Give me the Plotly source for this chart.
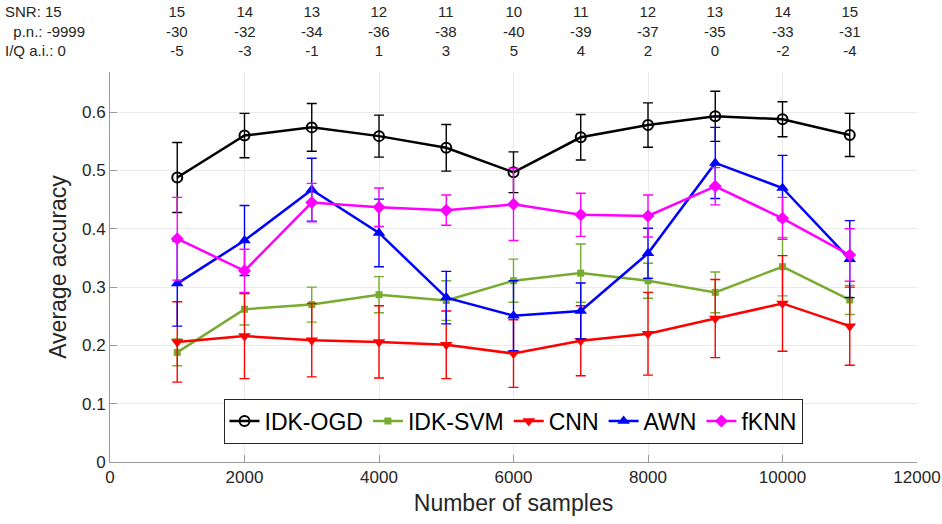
import plotly.graph_objects as go

# Sample counts on the x axis
samples = [1000, 2000, 3000, 4000, 5000, 6000, 7000, 8000, 9000, 10000, 11000]
x_ticks = [0, 2000, 4000, 6000, 8000, 10000, 12000]

# Mean accuracy and standard deviation for each method
idk_ogd = [0.488, 0.560, 0.574, 0.559, 0.539, 0.497, 0.557, 0.578, 0.593, 0.588, 0.561]
idk_ogd_err = [0.060, 0.038, 0.041, 0.036, 0.040, 0.035, 0.039, 0.038, 0.043, 0.030, 0.037]

idk_svm = [0.188, 0.262, 0.270, 0.287, 0.277, 0.311, 0.324, 0.311, 0.291, 0.335, 0.278]
idk_svm_err = [0.023, 0.027, 0.030, 0.031, 0.034, 0.037, 0.050, 0.030, 0.035, 0.050, 0.025]

cnn = [0.206, 0.216, 0.209, 0.206, 0.201, 0.186, 0.208, 0.220, 0.246, 0.272, 0.233]
cnn_err = [0.069, 0.073, 0.063, 0.062, 0.058, 0.058, 0.060, 0.071, 0.067, 0.082, 0.067]

awn = [0.306, 0.380, 0.467, 0.393, 0.282, 0.251, 0.259, 0.358, 0.513, 0.470, 0.348]
awn_err = [0.073, 0.060, 0.054, 0.058, 0.045, 0.060, 0.048, 0.043, 0.061, 0.056, 0.066]

fknn = [0.383, 0.328, 0.445, 0.437, 0.432, 0.442, 0.424, 0.422, 0.473, 0.418, 0.355]
fknn_err = [0.071, 0.037, 0.033, 0.033, 0.026, 0.062, 0.037, 0.036, 0.032, 0.036, 0.045]

# Stream conditions printed above each sample count
snr = [15, 14, 13, 12, 11, 10, 11, 12, 13, 14, 15]
phase_noise = [-30, -32, -34, -36, -38, -40, -39, -37, -35, -33, -31]
iq_imbalance = [-5, -3, -1, 1, 3, 5, 4, 2, 0, -2, -4]
row_labels = ["SNR: 15", "&nbsp;&nbsp;p.n.: -9999", "I/Q a.i.: 0"]

FONT = "Liberation Sans, Arial, sans-serif"
TEXT = "#262626"

series = [
    ("IDK-OGD", idk_ogd, idk_ogd_err, "#000000",
     dict(symbol="circle-open", size=10, line=dict(width=2, color="#000000"))),
    ("IDK-SVM", idk_svm, idk_svm_err, "#77AC30",
     dict(symbol="square", size=7)),
    ("CNN", cnn, cnn_err, "#FF0000",
     dict(symbol="triangle-down", size=11)),
    ("AWN", awn, awn_err, "#0000FF",
     dict(symbol="triangle-up", size=11)),
    ("fKNN", fknn, fknn_err, "#FF00FF",
     dict(symbol="diamond", size=10)),
]

fig = go.Figure()
for name, vals, errs, color, marker in series:
    marker = dict(marker)
    marker.setdefault("color", color)
    fig.add_trace(go.Scatter(
        x=samples, y=vals, name=name, mode="lines+markers",
        line=dict(color=color, width=2.5),
        marker=marker,
        error_y=dict(type="data", array=errs, visible=True,
                     color=color, thickness=1.4, width=5),
    ))

# Condition block above the plot: one three-line label per sample count
HEADER_TOP = 1.179
for xv, a, b, c in zip(samples, snr, phase_noise, iq_imbalance):
    fig.add_annotation(x=xv, y=HEADER_TOP, xref="x", yref="paper",
                       text=f"{a}<br>{b}<br>{c}", align="center",
                       showarrow=False, xanchor="center", yanchor="top",
                       borderpad=0,
                       font=dict(family=FONT, size=15, color=TEXT))
fig.add_annotation(x=-0.131, y=HEADER_TOP, xref="paper", yref="paper",
                   text="<br>".join(row_labels), align="left",
                   showarrow=False, xanchor="left", yanchor="top",
                   borderpad=0,
                   font=dict(family=FONT, size=15, color=TEXT))

fig.update_layout(
    width=942, height=524,
    margin=dict(l=110, r=25, t=72, b=62, autoexpand=False),
    paper_bgcolor="white", plot_bgcolor="white",
    font=dict(family=FONT, size=17, color=TEXT),
    showlegend=True,
    legend=dict(orientation="h", x=0.4994, y=0.105, xanchor="center", yanchor="middle",
                bgcolor="white", bordercolor="#262626", borderwidth=1,
                font=dict(family=FONT, size=23, color="#000000"),
                itemwidth=30, tracegroupgap=0),
    xaxis=dict(range=[0, 12000], tickvals=x_ticks,
               ticktext=[str(t) for t in x_ticks], automargin=False,
               showgrid=True, gridcolor="#ebebeb", gridwidth=1,
               showline=True, linecolor="#9a9a9a", linewidth=1,
               ticks="inside", ticklen=7, tickcolor="#9a9a9a",
               zeroline=False,
               title=dict(text="Number of samples", font=dict(family=FONT, size=23, color=TEXT),
                          standoff=8),
               tickfont=dict(family=FONT, size=17, color=TEXT)),
    yaxis=dict(range=[0, 0.669], tickvals=[0, 0.1, 0.2, 0.3, 0.4, 0.5, 0.6],
               ticktext=["0", "0.1", "0.2", "0.3", "0.4", "0.5", "0.6"],
               automargin=False,
               showgrid=True, gridcolor="#ebebeb", gridwidth=1,
               showline=True, linecolor="#9a9a9a", linewidth=1,
               ticks="inside", ticklen=7, tickcolor="#9a9a9a",
               zeroline=False,
               title=dict(text="Average accuracy", font=dict(family=FONT, size=23, color=TEXT),
                          standoff=8),
               tickfont=dict(family=FONT, size=17, color=TEXT)),
)

fig.write_html("out.html")
